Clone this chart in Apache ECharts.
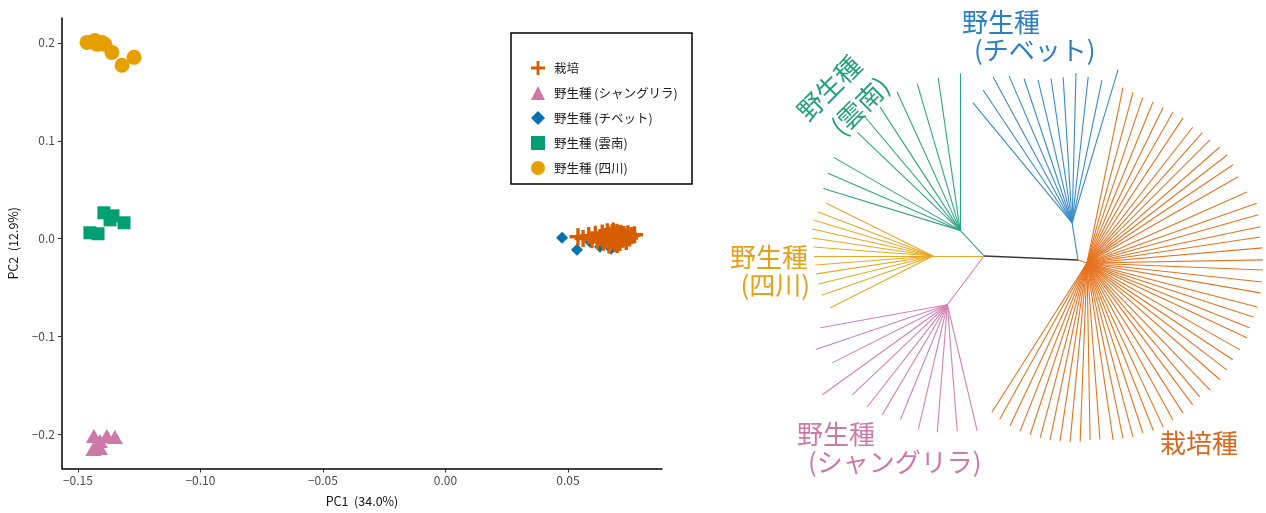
<!DOCTYPE html>
<html><head><meta charset="utf-8">
<script src="https://cdn.jsdelivr.net/npm/echarts@6/dist/echarts.min.js"></script>
<style>html,body{margin:0;padding:0;background:#fff}#c{width:1266px;height:513px}</style>
</head><body><div id="c"></div>
<script>
// ---------------- PCA data ----------------
const seriesNames = ['栽培', '野生種 (シャングリラ)', '野生種 (チベット)', '野生種 (雲南)', '野生種 (四川)'];
const cultivatedPC1 = [0.0541,0.0562,0.0585,0.0598,0.0612,0.0620,0.0631,0.0640,0.0645,0.0652,0.0658,0.0661,0.0667,0.0672,0.0675,0.0680,0.0683,0.0688,0.0690,0.0694,0.0697,0.0700,0.0703,0.0706,0.0710,0.0712,0.0716,0.0720,0.0724,0.0728,0.0733,0.0738,0.0745,0.0752,0.0760,0.0772,0.0668,0.0685,0.0702,0.0718];
const cultivatedPC2 = [0.0021,0.0003,0.0032,-0.0010,0.0045,-0.0021,0.0012,0.0058,-0.0035,0.0024,-0.0008,0.0071,0.0036,-0.0046,0.0015,0.0062,-0.0024,0.0040,0.0003,-0.0052,0.0028,0.0067,-0.0015,0.0049,0.0010,-0.0038,0.0055,0.0019,-0.0006,0.0043,0.0026,-0.0029,0.0051,0.0008,0.0034,0.0041,-0.0063,0.0079,-0.0058,0.0012];
const shangrilaPC1 = [-0.1435,-0.1410,-0.1382,-0.1349,-0.1437,-0.1410];
const shangrilaPC2 = [-0.2015,-0.2066,-0.2015,-0.2025,-0.2148,-0.2137];
const tibetPC1 = [0.0476,0.0537,0.0631,0.0676,0.0622,0.0590];
const tibetPC2 = [0.0010,-0.0112,-0.0081,-0.0102,0.0010,-0.0030];
const yunnanPC1 = [-0.1451,-0.1418,-0.1394,-0.1357,-0.1369,-0.1312];
const yunnanPC2 = [0.0061,0.0051,0.0265,0.0234,0.0193,0.0163];
const sichuanPC1 = [-0.1463,-0.1431,-0.1422,-0.1402,-0.1390,-0.1361,-0.1320,-0.1271];
const sichuanPC2 = [0.2005,0.2025,0.1985,0.2005,0.1985,0.1903,0.1771,0.1852];
const xTicks = [-0.15, -0.10, -0.05, 0.00, 0.05];
const yTicks = [-0.2, -0.1, 0.0, 0.1, 0.2];

// ---------------- Tree data (branch length, angle in degrees) ----------------
const treeInternal = [
  ['L', 'root', 48, 177.6],
  ['R', 'root', 46, -2.5],
  ['O', 'R', 9.5, -18],
  ['B', 'R', 37.5, 99],
  ['G', 'L', 35, 133],
  ['Y', 'L', 51, 180],
  ['P', 'L', 61, 233]
];
const yunnanTipAngles = [90, 98.2, 106.3, 114.5, 123, 130, 136.4, 150, 156.6, 163];
const yunnanTipLengths = [157, 154, 153, 152, 147, 148, 142, 146, 144, 143];
const tibetTipAngles = [129.5, 123.8, 118.4, 113.2, 108.4, 103.4, 98.3, 93.5, 88.5, 83.7, 78.2, 73.3];
const tibetTipLengths = [156, 160, 166, 160, 152, 147, 146, 146, 150, 147, 146, 160];
const shangrilaTipAngles = [190.3, 198.8, 206.8, 215.8, 223.5, 231.9, 239.4, 247.8, 256.9, 265.5, 274.5, 283.3];
const shangrilaTipLengths = [129, 139, 129, 154, 131, 130, 128, 124, 128, 128, 127, 130];
const sichuanTipAngles = [153.7, 159, 163.3, 167.4, 171.5, 175.7, 180, 184.4, 188.7, 193.7, 199.4, 206.8];
const sichuanTipLengths = [119, 123, 125, 124, 122, 120, 119, 118, 118, 118, 118, 115];
const cultivatedTipAngles = [78.4,74.9,71.4,67.7,63.9,60.3,56.5,52.1,48.5,45,41.1,37.6,33.9,29.7,23.9,19.4,15.7,11.8,8.5,4.9,1,-2.3,-6.2,-9.8,-14.5,-18,-21.7,-25.1,-29.6,-33.6,-37.4,-41.3,-45.9,-49.9,-53.3,-57.4,-61.3,-65.1,-68.4,-71.8,-75.2,-78.4,-81.6,-85.8,-89,-92.2,-95.4,-98.6,-101.8,-105,-108.3,-111.7,-115.3,-119.2,-122.5];
const cultivatedTipLengths = [179,177,175,174,173,174,174,172,174,174,176,177,176,174,175,180,178,177,175,176,176,176,176,176,176,175,175,177,176,175,176,177,177,175,177,178,179,181,180,179,180,179,179,177,177,179,180,180,181,181,181,181,180,179,177];

// ---------------- build ----------------
const zip = (a, b) => a.map((v, i) => [v, b[i]]);
const pos = { root: [0, 0] };
function place(from, len, angDeg) {
  const p = pos[from], a = angDeg * Math.PI / 180;
  return [p[0] + len * Math.cos(a), p[1] + len * Math.sin(a)];
}
treeInternal.forEach(([id, par, len, ang]) => { pos[id] = place(par, len, ang); });
function seg(a, b) { return { coords: [pos[a], pos[b]] }; }
function tips(node, angs, lens) { return angs.map((a, i) => ({ coords: [pos[node], place(node, lens[i], a)] })); }

const treeColors = { black: '#3a3a3a', green: '#2fa680', blue: '#3a8bc7', orange: '#e5731f', yellow: '#e9a927', pink: '#d182b2' };
function treeSeries(color, data, width) {
  return { type: 'lines', coordinateSystem: 'cartesian2d', xAxisIndex: 1, yAxisIndex: 1, silent: true, animation: false,
    lineStyle: { color: color, width: width || 1.1, opacity: 1 }, data: data };
}

const FONT = '"Noto Sans CJK JP", "Noto Sans", sans-serif';
const plusPath = 'path://M4,0H6V4H10V6H6V10H4V6H0V4H4Z';
const fmtMinus = (v, d) => (v < 0 ? '\u2212' : '') + Math.abs(v).toFixed(d);

const chart = echarts.init(document.getElementById('c'));
chart.setOption({
  animation: false,
  backgroundColor: '#fff',
  textStyle: { fontFamily: FONT },
  grid: [
    { left: 62, top: 18, width: 600, height: 452 },
    { left: 700, top: 0, width: 566, height: 513 }
  ],
  xAxis: [
    { type: 'value', gridIndex: 0, min: -0.1565, max: 0.0884, name: 'PC1  (34.0%)', nameLocation: 'middle', nameGap: 27,
      nameTextStyle: { color: '#111', fontSize: 12.5, fontFamily: FONT },
      axisLine: { onZero: false, lineStyle: { color: '#000', width: 1.5 } },
      axisTick: { show: true, length: 4, customValues: xTicks, lineStyle: { color: '#333' } },
      axisLabel: { customValues: xTicks, color: '#4d4d4d', fontSize: 12, margin: 6, formatter: v => fmtMinus(v, 2) },
      splitLine: { show: false } },
    { type: 'value', gridIndex: 1, min: -332, max: 234, show: false }
  ],
  yAxis: [
    { type: 'value', gridIndex: 0, min: -0.2346, max: 0.2254, name: 'PC2  (12.9%)', nameLocation: 'middle', nameGap: 42,
      nameTextStyle: { color: '#111', fontSize: 12.5, fontFamily: FONT },
      axisLine: { onZero: false, lineStyle: { color: '#000', width: 1.5 } },
      axisTick: { show: true, length: 4, customValues: yTicks, lineStyle: { color: '#333' } },
      axisLabel: { customValues: yTicks, color: '#4d4d4d', fontSize: 12, margin: 7, formatter: v => fmtMinus(v, 1) },
      splitLine: { show: false } },
    { type: 'value', gridIndex: 1, min: -255, max: 258, show: false }
  ],
  legend: {
    orient: 'vertical', left: 526, top: 56, itemWidth: 14, itemHeight: 14, itemGap: 11,
    data: seriesNames, textStyle: { fontSize: 12.5, color: '#222', fontFamily: FONT, padding: [0, 0, 0, 4] }
  },
  graphic: [
    { type: 'rect', shape: { x: 511, y: 33, width: 181, height: 151 }, style: { fill: 'none', stroke: '#000', lineWidth: 1.5 }, z: 100 },
    { type: 'text', x: 962, y: 22, style: { text: '野生種', fill: '#2a7fc0', font: '26px ' + FONT, textVerticalAlign: 'middle' } },
    { type: 'text', x: 974, y: 50, style: { text: '(チベット)', fill: '#2a7fc0', font: '26px ' + FONT, textVerticalAlign: 'middle' } },
    { type: 'text', x: 829, y: 88, rotation: 45 * Math.PI / 180, style: { text: '野生種', fill: '#23a079', font: '26px ' + FONT, textAlign: 'center', textVerticalAlign: 'middle' } },
    { type: 'text', x: 860, y: 106, rotation: 45 * Math.PI / 180, style: { text: '(雲南)', fill: '#23a079', font: '26px ' + FONT, textAlign: 'center', textVerticalAlign: 'middle' } },
    { type: 'text', x: 808, y: 257, style: { text: '野生種', fill: '#e3a11c', font: '26px ' + FONT, textAlign: 'right', textVerticalAlign: 'middle' } },
    { type: 'text', x: 810, y: 285, style: { text: '(四川)', fill: '#e3a11c', font: '26px ' + FONT, textAlign: 'right', textVerticalAlign: 'middle' } },
    { type: 'text', x: 797, y: 434, style: { text: '野生種', fill: '#cc79a7', font: '26px ' + FONT, textVerticalAlign: 'middle' } },
    { type: 'text', x: 808, y: 462, style: { text: '(シャングリラ)', fill: '#cc79a7', font: '26px ' + FONT, textVerticalAlign: 'middle' } },
    { type: 'text', x: 1160, y: 443, style: { text: '栽培種', fill: '#d9661b', font: '26px ' + FONT, textVerticalAlign: 'middle' } }
  ],
  series: [
    { name: seriesNames[2], type: 'scatter', xAxisIndex: 0, yAxisIndex: 0, symbol: 'diamond', symbolSize: 12, itemStyle: { color: '#0072B2', opacity: 1 }, data: zip(tibetPC1, tibetPC2), z: 2 },
    { name: seriesNames[0], type: 'scatter', xAxisIndex: 0, yAxisIndex: 0, symbol: plusPath, symbolSize: 17, itemStyle: { color: '#D55E00', opacity: 1 }, data: zip(cultivatedPC1, cultivatedPC2), z: 3 },
    { name: seriesNames[1], type: 'scatter', xAxisIndex: 0, yAxisIndex: 0, symbol: 'triangle', symbolSize: [16, 14], itemStyle: { color: '#CC79A7', opacity: 1 }, data: zip(shangrilaPC1, shangrilaPC2), z: 2 },
    { name: seriesNames[3], type: 'scatter', xAxisIndex: 0, yAxisIndex: 0, symbol: 'rect', symbolSize: 13, itemStyle: { color: '#009E73', opacity: 1 }, data: zip(yunnanPC1, yunnanPC2), z: 2 },
    { name: seriesNames[4], type: 'scatter', xAxisIndex: 0, yAxisIndex: 0, symbol: 'circle', symbolSize: 15, itemStyle: { color: '#E69F00', opacity: 1 }, data: zip(sichuanPC1, sichuanPC2), z: 2 },
    treeSeries(treeColors.green, [seg('L', 'G')].concat(tips('G', yunnanTipAngles, yunnanTipLengths))),
    treeSeries(treeColors.blue, [seg('R', 'B')].concat(tips('B', tibetTipAngles, tibetTipLengths))),
    treeSeries(treeColors.pink, [seg('L', 'P')].concat(tips('P', shangrilaTipAngles, shangrilaTipLengths))),
    treeSeries(treeColors.yellow, [seg('L', 'Y')].concat(tips('Y', sichuanTipAngles, sichuanTipLengths))),
    treeSeries(treeColors.orange, [seg('R', 'O')].concat(tips('O', cultivatedTipAngles, cultivatedTipLengths))),
    treeSeries(treeColors.black, [seg('root', 'L'), seg('root', 'R')], 1.6)
  ]
});
</script></body></html>
